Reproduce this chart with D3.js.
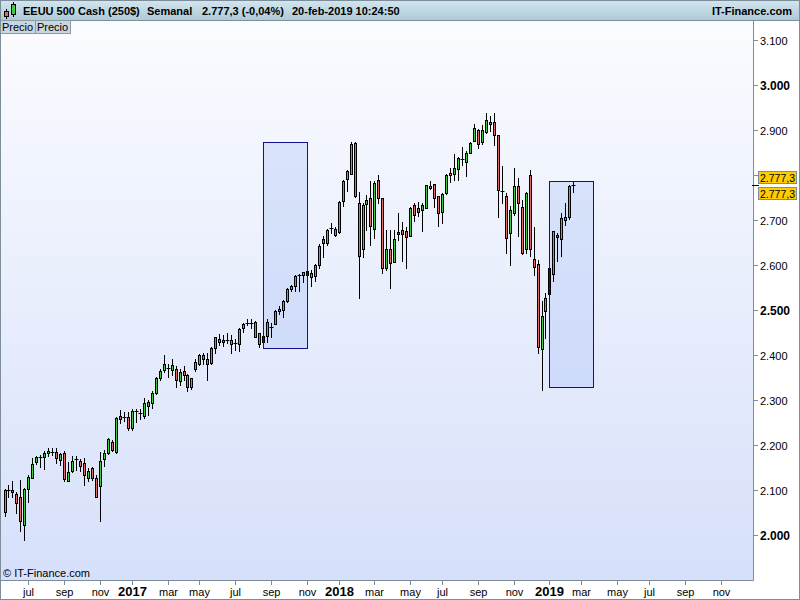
<!DOCTYPE html>
<html><head><meta charset="utf-8">
<script src="https://cdn.jsdelivr.net/npm/d3@7/dist/d3.min.js"></script>
<style>
body{margin:0;background:#fff}
svg{display:block}
text{font-family:"Liberation Sans",Arial,sans-serif}
</style>
</head><body>
<svg id="chart" width="800" height="600"></svg>
<script>
// ---------- DATA ----------
const firstWeek = "2016-05-23";          // Monday of first weekly candle
const opens = [2052,2100,2100,2092,2085,2022,2102,2127,2163,2173,2173,2183,2184,2185,2167,2182,2120,2143,2166,2164,
2159,2126,2148,2127,2110,2168,2183,2207,2185,2264,2262,2262,2238,2273,2272,2265,2286,2293,2316,2348,
2366,2372,2367,2369,2342,2364,2355,2330,2369,2381,2400,2390,2383,2416,2435,2428,2433,2433,2424,2424,
2459,2471,2472,2474,2448,2428,2442,2463,2470,2497,2501,2520,2547,2553,2577,2577,2586,2583,2576,2601,
2657,2650,2681,2679,2673,2743,2792,2802,2872,2737,2635,2736,2750,2679,2788,2748,2593,2635,2607,2673,
2678,2676,2665,2733,2726,2723,2727,2775,2779,2753,2717,2759,2805,2802,2813,2836,2828,2850,2876,2901,
2873,2896,2917,2917,2889,2765,2753,2672,2715,2776,2730,2635,2800,2613,2602,2413,2498,2535,2581,2666,
2657,2701,2706,2776];
const highs = [2103,2112,2121,2095,2122,2104,2133,2172,2176,2178,2187,2193,2194,2193,2183,2187,2163,2175,2175,2169,
2170,2148,2152,2133,2184,2189,2216,2211,2262,2278,2273,2274,2281,2281,2280,2304,2301,2320,2352,2368,
2401,2381,2390,2375,2370,2376,2357,2350,2390,2403,2404,2405,2418,2441,2446,2444,2450,2444,2435,2459,
2472,2479,2481,2476,2450,2450,2481,2471,2500,2509,2522,2550,2556,2578,2580,2585,2588,2589,2602,2647,
2664,2679,2694,2684,2742,2789,2811,2873,2874,2763,2737,2755,2787,2787,2800,2748,2678,2678,2678,2715,
2695,2685,2728,2738,2741,2737,2778,2787,2779,2753,2761,2803,2815,2847,2840,2862,2854,2874,2913,2903,
2911,2937,2931,2937,2890,2820,2760,2732,2815,2793,2744,2763,2811,2685,2611,2521,2538,2604,2676,2672,
2716,2738,2778,2787];
const lows = [2043,2084,2085,2048,2010,1990,2073,2126,2158,2152,2147,2175,2178,2160,2156,2120,2119,2139,2145,2142,
2111,2121,2122,2084,2031,2153,2180,2187,2183,2250,2253,2233,2233,2252,2257,2259,2266,2282,2314,2344,
2363,2352,2355,2330,2334,2345,2321,2325,2365,2378,2380,2345,2381,2404,2422,2419,2426,2404,2412,2410,
2452,2467,2461,2439,2418,2417,2428,2441,2468,2491,2485,2518,2543,2543,2543,2563,2556,2554,2565,2594,
2617,2645,2672,2664,2672,2732,2765,2802,2752,2527,2618,2678,2644,2661,2738,2583,2589,2550,2607,2655,
2609,2593,2664,2698,2709,2675,2726,2768,2730,2687,2694,2757,2785,2788,2788,2822,2798,2849,2875,2861,
2870,2894,2898,2867,2706,2738,2627,2601,2712,2664,2624,2627,2620,2578,2405,2322,2437,2524,2565,2610,
2620,2690,2703,2763];
const closes = [2099,2099,2096,2070,2030,2103,2130,2158,2173,2174,2182,2186,2185,2170,2180,2125,2139,2164,2169,2153,
2133,2142,2126,2085,2164,2182,2214,2190,2260,2258,2263,2237,2275,2275,2270,2293,2296,2316,2350,2365,
2381,2370,2377,2344,2362,2355,2330,2348,2384,2400,2390,2381,2416,2439,2430,2434,2433,2424,2426,2457,
2470,2472,2472,2441,2425,2442,2474,2461,2498,2502,2519,2547,2553,2575,2578,2584,2578,2574,2600,2642,
2648,2678,2683,2666,2740,2786,2809,2870,2753,2621,2733,2744,2687,2783,2748,2593,2635,2604,2657,2670,
2670,2663,2726,2711,2718,2733,2777,2772,2750,2716,2757,2799,2799,2815,2837,2833,2848,2872,2904,2868,
2901,2922,2913,2889,2767,2763,2661,2722,2776,2738,2627,2761,2635,2595,2417,2487,2526,2593,2675,2663,
2704,2707,2775,2777.3];

const priceTicks = [2000,2100,2200,2300,2400,2500,2600,2700,2800,2900,3000,3100];
const boldPriceTicks = [2000,2500,3000];
const monthTickDates = ["2016-07-01","2016-09-01","2016-11-01","2017-01-01","2017-03-01","2017-05-01","2017-07-01",
"2017-09-01","2017-11-01","2018-01-01","2018-03-01","2018-05-01","2018-07-01","2018-09-01","2018-11-01",
"2019-01-01","2019-03-01","2019-05-01","2019-07-01","2019-09-01","2019-11-01"];
const monthNames = ["ene","feb","mar","abr","may","jun","jul","ago","sep","oct","nov","dic"];

const boxStart  = ["2017-08-21","2019-01-07"];
const boxEnd    = ["2017-11-06","2019-03-25"];
const boxTop    = [2873,2786];
const boxBottom = [2415,2328];

const lastPrice = 2777.3;
const headerTitle = "EEUU 500 Cash (250$)";
const headerPeriod = "Semanal";
const headerQuote = "2.777,3 (-0,04%)";
const headerDate = "20-feb-2019 10:24:50";

// ---------- SCALES ----------
const parse = d3.timeParse("%Y-%m-%d");
const t0 = parse(firstWeek);
const weekIndex = d => d3.timeMonday.count(t0, d3.timeMonday.ceil(d));
const xi = d3.scaleLinear().domain([0,180]).range([4.5,720.5]);
const x = d => xi(weekIndex(d));
const y = d3.scaleLinear().domain([2000,3000]).range([535,85]);
const fmtNum = v => d3.format(",")(v).replace(/,/g,".");
const fmtPrice = v => d3.format(",.1f")(v).replace(/,/g,"#").replace(".",",").replace(/#/g,".");

const W=800,H=600, plotR=753, plotT=20, plotB=580;
const svg = d3.select("#chart");
const defs = svg.append("defs");
const g1 = defs.append("linearGradient").attr("id","bg").attr("x1",0).attr("x2",0).attr("y1",0).attr("y2",1);
g1.append("stop").attr("offset","0%").attr("stop-color","#fbfcff");
g1.append("stop").attr("offset","100%").attr("stop-color","#d6e0fa");
const g2 = defs.append("linearGradient").attr("id","hd").attr("x1",0).attr("x2",0).attr("y1",0).attr("y2",1);
g2.append("stop").attr("offset","0%").attr("stop-color","#d3e6ee");
g2.append("stop").attr("offset","100%").attr("stop-color","#aecad7");

svg.append("rect").attr("width",W).attr("height",H).attr("fill","#fff");
svg.append("rect").attr("x",0).attr("y",plotT).attr("width",plotR).attr("height",plotB-plotT).attr("fill","url(#bg)");

// boxes (fill behind candles)
const boxes = boxStart.map((s,i)=>({s:parse(s),e:parse(boxEnd[i]),t:boxTop[i],b:boxBottom[i]}));
svg.append("g").selectAll("rect").data(boxes).join("rect")
  .attr("x",d=>Math.round(x(d.s))+0.5).attr("y",d=>Math.round(y(d.t))+0.5)
  .attr("width",d=>Math.round(x(d.e))-Math.round(x(d.s)))
  .attr("height",d=>Math.round(y(d.b))-Math.round(y(d.t)))
  .attr("fill","rgba(160,185,245,0.3)");

// candles
const candles = opens.map((o,i)=>({i,o,h:highs[i],l:lows[i],c:closes[i]}));
const cg = svg.append("g");
candles.forEach(d=>{
  const cx = Math.round(xi(d.i))+0.5;
  cg.append("line").attr("x1",cx).attr("x2",cx)
    .attr("y1",Math.round(y(d.h))).attr("y2",Math.round(y(d.l))+1)
    .attr("stroke","#000").attr("stroke-width",1);
  const yt = Math.round(y(Math.max(d.o,d.c))), yb = Math.round(y(Math.min(d.o,d.c)));
  if (yb - yt < 2) {
    cg.append("line").attr("x1",cx-2).attr("x2",cx+2).attr("y1",yt+0.5).attr("y2",yt+0.5)
      .attr("stroke","#000").attr("stroke-width",1);
  } else {
    cg.append("rect").attr("x",cx-1).attr("width",2).attr("y",yt+0.5).attr("height",yb-yt)
      .attr("fill", d.c>=d.o ? "#3fcc3f" : "#e06a6a").attr("stroke","#000").attr("stroke-width",1);
  }
});

// box borders on top
svg.append("g").selectAll("rect").data(boxes).join("rect")
  .attr("x",d=>Math.round(x(d.s))+0.5).attr("y",d=>Math.round(y(d.t))+0.5)
  .attr("width",d=>Math.round(x(d.e))-Math.round(x(d.s)))
  .attr("height",d=>Math.round(y(d.b))-Math.round(y(d.t)))
  .attr("fill","none").attr("stroke","#12128f").attr("stroke-width",1);

// plot border
svg.append("path").attr("d",`M0.5,${plotT}V${plotB+0.5}H${plotR+0.5}V${plotT}`)
  .attr("fill","none").attr("stroke","#7d8e9a");

// last price position (used to hide the axis label covered by the price tags)
const ly = Math.round(y(lastPrice));

// right axis
const ya = svg.append("g");
priceTicks.forEach(v=>{
  const yy = Math.round(y(v))+0.5;
  ya.append("line").attr("x1",plotR).attr("x2",plotR+5).attr("y1",yy).attr("y2",yy).attr("stroke","#7d8e9a");
  if (Math.abs(yy - ly) < 20) return;   // covered by the price tags in the original
  const b = boldPriceTicks.includes(v);
  ya.append("text").attr("x",760).attr("y",yy+4).attr("font-size",b?12:11).attr("font-weight",b?"bold":"normal")
    .attr("fill","#000").text(fmtNum(v));
});

// bottom axis
const xa = svg.append("g");
monthTickDates.forEach(s=>{
  const d = parse(s);
  const xx = Math.round(x(d))+0.5;
  xa.append("line").attr("x1",xx).attr("x2",xx).attr("y1",plotB).attr("y2",plotB+5).attr("stroke","#7d8e9a");
  const isYear = d.getMonth()===0;
  xa.append("text").attr("x",xx).attr("y",596).attr("text-anchor","middle")
    .attr("font-size",isYear?13:11).attr("font-weight",isYear?"bold":"normal").attr("fill","#000")
    .text(isYear ? d.getFullYear() : monthNames[d.getMonth()]);
});

// last price marker & tags
svg.append("line").attr("x1",plotR-1).attr("x2",plotR+6).attr("y1",ly+0.5).attr("y2",ly+0.5).attr("stroke","#000");
[ly-14, ly+2].forEach(ty=>{
  svg.append("rect").attr("x",758.5).attr("y",ty+0.5).attr("width",38).attr("height",12)
    .attr("fill","#ffcc00").attr("stroke","#7d8e9a");
  svg.append("text").attr("x",760).attr("y",ty+10.5).attr("font-size",10.5).attr("fill","#000").text(fmtPrice(lastPrice));
});

// header
svg.append("rect").attr("x",0).attr("y",0).attr("width",W).attr("height",plotT).attr("fill","url(#hd)");
svg.append("line").attr("x1",0).attr("x2",W).attr("y1",plotT+0.5).attr("y2",plotT+0.5).attr("stroke","#7d8e9a");
// icon
svg.append("line").attr("x1",6.5).attr("x2",6.5).attr("y1",9).attr("y2",19).attr("stroke","#000");
svg.append("rect").attr("x",4.5).attr("y",11.5).attr("width",4).attr("height",5).attr("fill","#e06a6a").attr("stroke","#000");
svg.append("line").attr("x1",13.5).attr("x2",13.5).attr("y1",2).attr("y2",17).attr("stroke","#000");
svg.append("rect").attr("x",11.5).attr("y",4.5).attr("width",4).attr("height",10).attr("fill","#3fcc3f").attr("stroke","#000");
const ht = svg.append("g").attr("font-size",11).attr("font-weight","bold").attr("fill","#000");
ht.append("text").attr("x",23).attr("y",15).text(headerTitle);
ht.append("text").attr("x",147).attr("y",15).text(headerPeriod);
ht.append("text").attr("x",202).attr("y",15).text(headerQuote);
ht.append("text").attr("x",292).attr("y",15).text(headerDate);
ht.append("text").attr("x",792).attr("y",15).attr("text-anchor","end").text("IT-Finance.com");

// tabs
["Precio","Precio"].forEach((t,i)=>{
  svg.append("rect").attr("x",0.5+i*35).attr("y",plotT+0.5).attr("width",35).attr("height",13)
    .attr("fill","#c7d6df").attr("stroke","#8a9ba7");
  svg.append("text").attr("x",2+i*35).attr("y",plotT+11).attr("font-size",11).attr("fill","#000").text(t);
});

// watermark
svg.append("text").attr("x",3).attr("y",577).attr("font-size",11).attr("fill","#000").text("© IT-Finance.com");

// outer frame
svg.append("rect").attr("x",0.5).attr("y",0.5).attr("width",W-1).attr("height",H-1).attr("fill","none").attr("stroke","#7d8e9a");
</script>
</body></html>
